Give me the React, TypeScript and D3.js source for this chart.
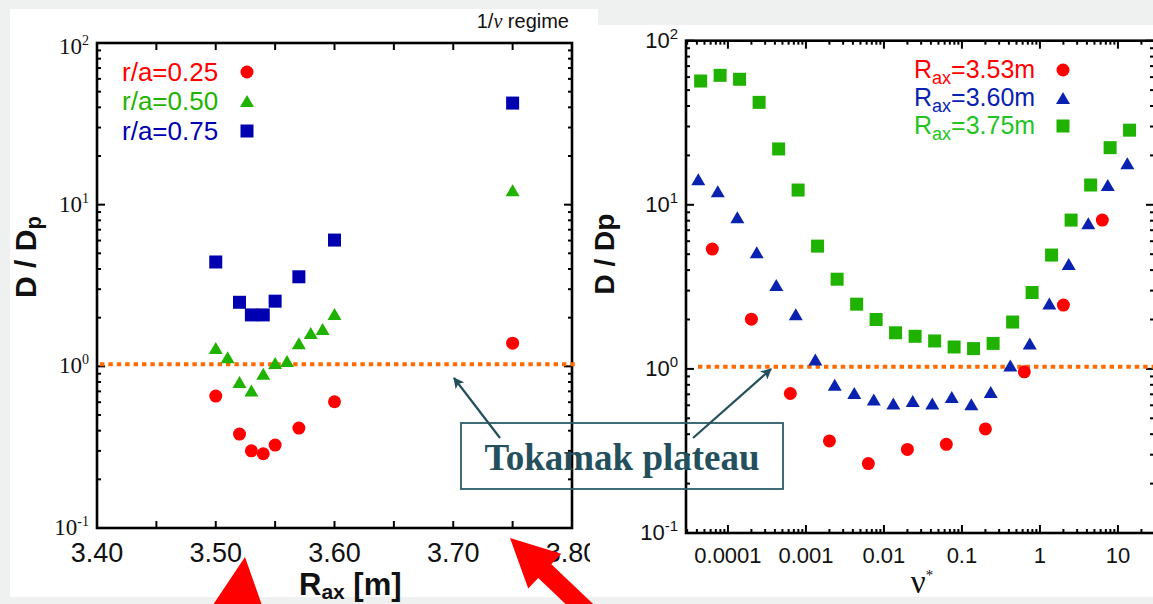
import React from 'react';
import * as d3 from 'd3';

const W = 1153;
const H = 604;

// ---------- Left panel data (D/Dp vs R_ax) ----------
const leftRaxRed = [3.5, 3.52, 3.53, 3.54, 3.55, 3.57, 3.6, 3.75];
const leftRed = [0.655, 0.381, 0.3, 0.288, 0.326, 0.415, 0.604, 1.39];
const leftRaxGreen = [3.5, 3.51, 3.52, 3.53, 3.54, 3.55, 3.56, 3.57, 3.58, 3.59, 3.6, 3.75];
const leftGreen = [1.3, 1.14, 0.8, 0.71, 0.9, 1.05, 1.08, 1.39, 1.61, 1.7, 2.11, 12.3];
const leftRaxBlue = [3.5, 3.52, 3.53, 3.54, 3.55, 3.57, 3.6, 3.75];
const leftBlue = [4.42, 2.49, 2.08, 2.08, 2.53, 3.58, 6.04, 42.5];
const leftXTickLabels = [3.4, 3.5, 3.6, 3.7, 3.8];
const leftXTickMarks = [3.45, 3.5, 3.55, 3.6, 3.65, 3.7, 3.75];
const leftLegend = ['r/a=0.25', 'r/a=0.50', 'r/a=0.75'];

// ---------- Right panel data (D/Dp vs nu*) ----------
const nuRed = [0.0000631, 0.0002, 0.000631, 0.002, 0.00631, 0.02, 0.0631, 0.2, 0.631, 2.0, 6.31];
const rightRed = [5.37, 2.01, 0.708, 0.364, 0.265, 0.323, 0.347, 0.431, 0.96, 2.45, 8.07];
const nuBlue = [0.0000417, 0.0000741, 0.000132, 0.000234, 0.000417, 0.000741, 0.00132, 0.00234, 0.00417, 0.00741, 0.0132, 0.0234, 0.0417, 0.0741, 0.132, 0.234, 0.417, 0.741, 1.32, 2.34, 4.17, 7.41, 13.2];
const rightBlue = [14.3, 12.1, 8.4, 5.13, 3.24, 2.15, 1.14, 0.8, 0.714, 0.651, 0.615, 0.638, 0.615, 0.675, 0.609, 0.724, 1.05, 1.43, 2.5, 4.35, 7.73, 13.2, 17.9];
const nuGreen = [0.0000447, 0.0000794, 0.000141, 0.000251, 0.000447, 0.000794, 0.00141, 0.00251, 0.00447, 0.00794, 0.0141, 0.0251, 0.0447, 0.0794, 0.141, 0.251, 0.447, 0.794, 1.41, 2.51, 4.47, 7.94, 14.1];
const rightGreen = [56.8, 61.5, 58.2, 42.1, 21.9, 12.3, 5.6, 3.52, 2.48, 2.0, 1.66, 1.58, 1.48, 1.36, 1.33, 1.43, 1.93, 2.92, 4.94, 8.07, 13.2, 22.3, 28.5];
const rightXTickLabels = ['0.0001', '0.001', '0.01', '0.1', '1', '10'];
const rightXTickValues = [0.0001, 0.001, 0.01, 0.1, 1, 10];
const rightLegend = ['=3.53m', '=3.60m', '=3.75m'];

const yDecades = [0.1, 1, 10, 100];
const yDecadeExp = ['-1', '0', '1', '2'];
const plateauLevel = 1.03;

const RED = '#ff0000';
const GREEN = '#1fb300';
const BLUE = '#0000b0';
const BLUE_R = '#0a22b0';
const ORANGE = '#ff6a00';
const TEAL = '#24505e';
const SANS = '"Liberation Sans", Arial, Helvetica, sans-serif';
const SERIF = '"Liberation Serif", "Times New Roman", serif';

const Circle = ({ x, y, c, r = 6.5 }: any) => <circle cx={x} cy={y} r={r} fill={c} />;
const Square = ({ x, y, c, s = 13 }: any) => <rect x={x - s / 2} y={y - s / 2} width={s} height={s} fill={c} />;
const Tri = ({ x, y, c, w = 14, h = 12 }: any) => (
  <path d={`M${x},${y - h / 2} L${x + w / 2},${y + h / 2} L${x - w / 2},${y + h / 2} Z`} fill={c} />
);

function bigArrow(tip: [number, number], tail: [number, number], headLen: number, headHalf: number, shaftHalf: number) {
  const dx = tip[0] - tail[0];
  const dy = tip[1] - tail[1];
  const L = Math.hypot(dx, dy);
  const d = [dx / L, dy / L];
  const n = [-d[1], d[0]];
  const B = [tip[0] - d[0] * headLen, tip[1] - d[1] * headLen];
  const pts = [
    tip,
    [B[0] + n[0] * headHalf, B[1] + n[1] * headHalf],
    [B[0] + n[0] * shaftHalf, B[1] + n[1] * shaftHalf],
    [tail[0] + n[0] * shaftHalf, tail[1] + n[1] * shaftHalf],
    [tail[0] - n[0] * shaftHalf, tail[1] - n[1] * shaftHalf],
    [B[0] - n[0] * shaftHalf, B[1] - n[1] * shaftHalf],
    [B[0] - n[0] * headHalf, B[1] - n[1] * headHalf],
  ];
  return pts.map((p) => p.join(',')).join(' ');
}

export default function App() {
  // Left scales
  const xL = d3.scaleLinear().domain([3.4, 3.8]).range([97, 572]);
  const yL = d3.scaleLog().domain([0.1, 100]).range([528, 43]);
  // Right scales
  const xR = d3.scaleLog().domain([2.9e-5, 29]).range([686, 1154]);
  const yR = d3.scaleLog().domain([0.1, 100]).range([533, 40.7]);

  const isDecade = (v: number) => Math.abs(Math.log10(v) - Math.round(Math.log10(v))) < 1e-6;

  const lx0 = 97, lx1 = 572, ly0 = 43, ly1 = 528;
  const rx0 = 686, rx1 = 1155, ry0 = 40.7, ry1 = 533;

  const yTicksL = yL.ticks();
  const yTicksR = yR.ticks();
  const xTicksR = xR.ticks().filter((v) => v >= 2.9e-5 && v <= 29);

  return (
    <svg width={W} height={H} style={{ position: 'absolute', left: 0, top: 0 }} xmlns="http://www.w3.org/2000/svg">
      <defs>
        <clipPath id="leftClip">
          <rect x={0} y={0} width={590} height={H} />
        </clipPath>
        <marker id="ah" viewBox="0 0 10 10" refX="9" refY="5" markerWidth="5" markerHeight="5" orient="auto">
          <path d="M0,0 L10,5 L0,10 L2.5,5 Z" fill={TEAL} />
        </marker>
      </defs>
      <rect x={0} y={0} width={W} height={H} fill="#eff1f1" />
      <rect x={10} y={9} width={588} height={588} fill="#ffffff" />
      <rect x={590} y={25} width={563} height={572} fill="#ffffff" />

      {/* ---------------- LEFT PANEL ---------------- */}
      <g clipPath="url(#leftClip)">
        <text x={569} y={28} textAnchor="end" fontFamily={SANS} fontSize={20} fill="#111">
          1/<tspan fontStyle="italic" fontFamily={SERIF}>ν</tspan>  regime
        </text>
        {/* y ticks */}
        {yTicksL.map((v, i) => {
          const y = yL(v);
          const len = isDecade(v) ? 8 : 4;
          return (
            <g key={'lyt' + i}>
              <line x1={lx0} x2={lx0 + len} y1={y} y2={y} stroke="#000" strokeWidth={2} />
              <line x1={lx1} x2={lx1 - len} y1={y} y2={y} stroke="#000" strokeWidth={2} />
            </g>
          );
        })}
        {/* x ticks */}
        {leftXTickMarks.map((v, i) => (
          <g key={'lxt' + i}>
            <line x1={xL(v)} x2={xL(v)} y1={ly1} y2={ly1 - 7} stroke="#000" strokeWidth={2} />
            <line x1={xL(v)} x2={xL(v)} y1={ly0} y2={ly0 + 7} stroke="#000" strokeWidth={2} />
          </g>
        ))}
        <rect x={lx0} y={ly0} width={lx1 - lx0} height={ly1 - ly0} fill="none" stroke="#000" strokeWidth={2.6} />
        {/* y tick labels (serif) */}
        {yDecades.map((v, i) => (
          <text key={'lyl' + i} x={89} y={yL(v) + 7 + (v === 100 ? 4 : 0)} textAnchor="end" fontFamily={SERIF} fontSize={23} fill="#111">
            10<tspan dy={-9} fontSize={14}>{yDecadeExp[i]}</tspan>
          </text>
        ))}
        {/* x tick labels */}
        {leftXTickLabels.map((v, i) => (
          <text key={'lxl' + i} x={xL(v)} y={562} textAnchor="middle" fontFamily={SANS} fontSize={27} fill="#111">
            {v.toFixed(2)}
          </text>
        ))}
        {/* axis titles */}
        <text x={299} y={595} fontFamily={SANS} fontWeight="bold" fontSize={31} fill="#111">
          R<tspan fontSize={21} dy={4}>ax</tspan>
          <tspan dy={-4}> [m]</tspan>
        </text>
        <text transform="translate(36,257) rotate(-90)" textAnchor="middle" fontFamily={SANS} fontWeight="bold" fontSize={30} fill="#111">
          D / D<tspan fontSize={22} dy={5}>p</tspan>
        </text>
        {/* plateau line */}
        <line x1={lx0 + 3} x2={lx1 + 3} y1={yL(plateauLevel)} y2={yL(plateauLevel)} stroke={ORANGE} strokeWidth={4} strokeDasharray="4.4 4" />
        {/* data */}
        {leftRaxRed.map((x, i) => <Circle key={'lr' + i} x={xL(x)} y={yL(leftRed[i])} c={RED} />)}
        {leftRaxGreen.map((x, i) => <Tri key={'lg' + i} x={xL(x)} y={yL(leftGreen[i])} c={GREEN} />)}
        {leftRaxBlue.map((x, i) => <Square key={'lb' + i} x={xL(x)} y={yL(leftBlue[i])} c={BLUE} />)}
        {/* legend */}
        {leftLegend.map((t, i) => (
          <text key={'llg' + i} x={122} y={[72, 101, 131][i] + 9} fontFamily={SANS} fontSize={26} fill={[RED, GREEN, BLUE][i]}>
            {t}
          </text>
        ))}
        <Circle x={247} y={72} c={RED} />
        <Tri x={247} y={101} c={GREEN} />
        <Square x={247} y={131} c={BLUE} />
      </g>

      {/* ---------------- RIGHT PANEL ---------------- */}
      <g>
        {yTicksR.map((v, i) => {
          const y = yR(v);
          const len = isDecade(v) ? 8 : 4;
          return (
            <g key={'ryt' + i}>
              <line x1={rx0} x2={rx0 + len} y1={y} y2={y} stroke="#000" strokeWidth={2} />
              <line x1={rx1} x2={rx1 - len - 1} y1={y} y2={y} stroke="#000" strokeWidth={2} />
            </g>
          );
        })}
        {xTicksR.map((v, i) => {
          const x = xR(v);
          const len = isDecade(v) ? 8 : 4;
          return (
            <g key={'rxt' + i}>
              <line x1={x} x2={x} y1={ry1} y2={ry1 - len} stroke="#000" strokeWidth={2} />
              <line x1={x} x2={x} y1={ry0} y2={ry0 + len} stroke="#000" strokeWidth={2} />
            </g>
          );
        })}
        <rect x={rx0} y={ry0} width={rx1 - rx0} height={ry1 - ry0} fill="none" stroke="#000" strokeWidth={2.6} />
        {yDecades.map((v, i) => (
          <text key={'ryl' + i} x={678} y={yR(v) + 7} textAnchor="end" fontFamily={SANS} fontSize={22} fill="#111">
            10<tspan dy={-9} fontSize={15}>{yDecadeExp[i]}</tspan>
          </text>
        ))}
        {rightXTickValues.map((v, i) => (
          <text key={'rxl' + i} x={xR(v)} y={563} textAnchor="middle" fontFamily={SANS} fontSize={22} fill="#111">
            {rightXTickLabels[i]}
          </text>
        ))}
        <text x={922} y={593} textAnchor="middle" fontFamily={SERIF} fontSize={33} fill="#111">
          ν<tspan dy={-13} fontSize={15}>*</tspan>
        </text>
        <text transform="translate(614,254) rotate(-90)" textAnchor="middle" fontFamily={SANS} fontWeight="bold" fontSize={28} fill="#111">
          D / Dp
        </text>
        <line x1={698} x2={W} y1={yR(plateauLevel)} y2={yR(plateauLevel)} stroke={ORANGE} strokeWidth={4} strokeDasharray="4.4 4" />
        {nuGreen.map((x, i) => <Square key={'rg' + i} x={xR(x)} y={yR(rightGreen[i])} c={GREEN} />)}
        {nuBlue.map((x, i) => <Tri key={'rb' + i} x={xR(x)} y={yR(rightBlue[i])} c={BLUE_R} />)}
        {nuRed.map((x, i) => <Circle key={'rr' + i} x={xR(x)} y={yR(rightRed[i])} c={RED} />)}
        {rightLegend.map((t, i) => (
          <text key={'rlg' + i} x={914} y={[70, 98, 126][i] + 8} fontFamily={SANS} fontSize={25} fill={[RED, BLUE_R, '#22c422'][i]}>
            R<tspan fontSize={18} dy={6}>ax</tspan>
            <tspan dy={-6}>{t}</tspan>
          </text>
        ))}
        <Circle x={1063} y={70} c={RED} />
        <Tri x={1063} y={98} c={BLUE_R} />
        <Square x={1063} y={126} c={GREEN} />
      </g>

      {/* ---------------- Annotation ---------------- */}
      <rect x={461} y={423} width={322} height={66} fill="none" stroke="#2d5b68" strokeWidth={1.8} />
      <text x={622} y={470} textAnchor="middle" fontFamily={SERIF} fontWeight="bold" fontSize={37} fill={TEAL}>
        Tokamak plateau
      </text>
      <line x1={500} y1={438} x2={454} y2={378} stroke={TEAL} strokeWidth={2.2} markerEnd="url(#ah)" />
      <line x1={693} y1={438} x2={771} y2={369} stroke={TEAL} strokeWidth={2.2} markerEnd="url(#ah)" />

      {/* Big red arrows */}
      <polygon points={bigArrow([245, 557], [232, 660], 60, 30, 12)} fill="#ff0000" />
      <polygon points={bigArrow([510, 538], [592, 616], 48, 24, 9.5)} fill="#ff0000" />
    </svg>
  );
}
